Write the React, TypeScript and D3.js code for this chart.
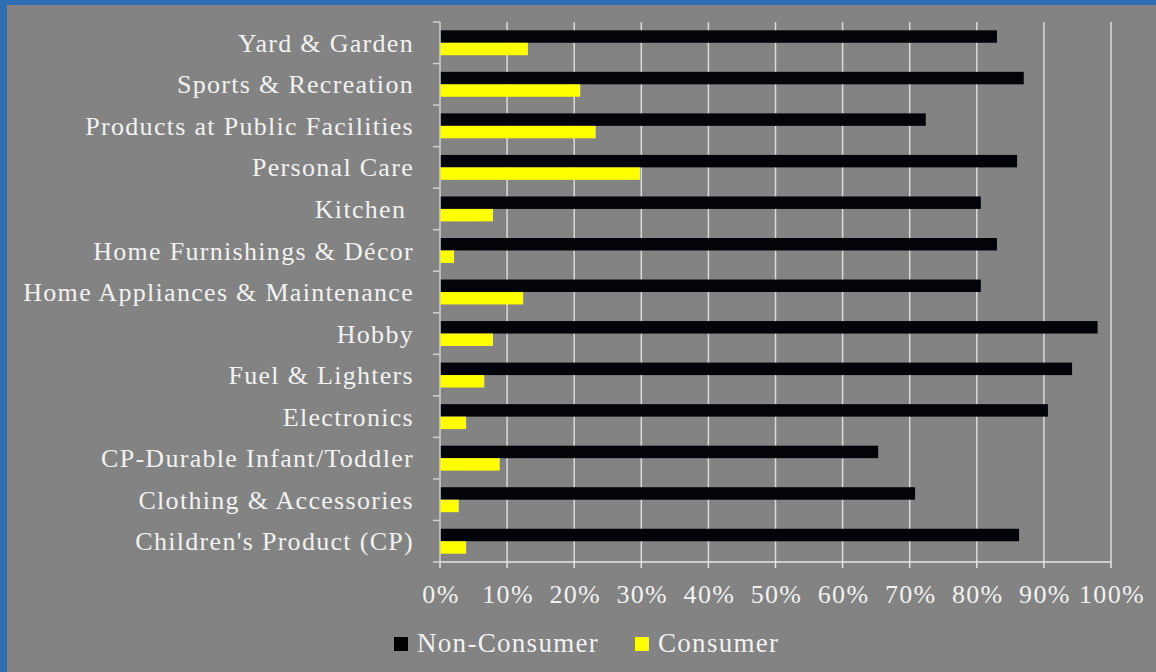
import * as d3 from "d3";

const categories = [
  "Yard & Garden",
  "Sports & Recreation",
  "Products at Public Facilities",
  "Personal Care",
  "Kitchen ",
  "Home Furnishings & Décor",
  "Home Appliances & Maintenance",
  "Hobby",
  "Fuel & Lighters",
  "Electronics",
  "CP-Durable Infant/Toddler",
  "Clothing & Accessories",
  "Children's Product (CP)",
];

const nonConsumer = [83, 87, 72.4, 86, 80.6, 83, 80.6, 98, 94.2, 90.6, 65.3, 70.8, 86.3];
const consumer = [13.1, 20.9, 23.2, 29.8, 7.9, 2.1, 12.4, 7.9, 6.6, 3.9, 8.9, 2.8, 3.9];

const seriesNames = ["Non-Consumer", "Consumer"];
const seriesColors = ["#03030a", "#ffff00"];
const xTicks = [0, 10, 20, 30, 40, 50, 60, 70, 80, 90, 100];

const W = 1156;
const H = 672;
const FONT = "'Liberation Serif', 'DejaVu Serif', serif";
const TEXT = "#f2f2f2";

export default function App() {
  const left = 440;
  const right = 1111;
  const top = 22;
  const bottom = 562;

  const x = d3.scaleLinear().domain([0, 100]).range([left, right]);
  const y = d3
    .scaleBand<string>()
    .domain(categories)
    .range([top, bottom])
    .paddingInner(0.4)
    .paddingOuter(0.2);
  const sub = d3
    .scaleBand<string>()
    .domain(seriesNames)
    .range([0, y.bandwidth()]);

  const seriesValues = [nonConsumer, consumer];
  const step = y.step();

  return (
    <svg
      width={W}
      height={H}
      style={{ position: "absolute", left: 0, top: 0, display: "block" }}
    >
      {/* slide background */}
      <rect x={0} y={0} width={W} height={H} fill="#2f6db3" />
      <rect x={7} y={5} width={W - 7} height={H - 5} fill="#838383" />

      {/* gridlines */}
      {xTicks.slice(1).map((t) => (
        <line
          key={"g" + t}
          x1={x(t)}
          x2={x(t)}
          y1={top}
          y2={bottom}
          stroke="#dadada"
          strokeWidth={1.5}
        />
      ))}

      {/* bars */}
      {categories.map((c, i) => (
        <g key={c} transform={`translate(0,${y(c)})`}>
          {seriesNames.map((s, j) => (
            <rect
              key={s}
              x={x(0)}
              y={sub(s)}
              width={x(seriesValues[j][i]) - x(0)}
              height={sub.bandwidth()}
              fill={seriesColors[j]}
            />
          ))}
        </g>
      ))}

      {/* left axis */}
      <line x1={left} x2={left} y1={top} y2={bottom} stroke="#cfcfcf" strokeWidth={1.5} />
      {d3.range(categories.length + 1).map((k) => (
        <line
          key={"lt" + k}
          x1={left - 7}
          x2={left}
          y1={top + k * step}
          y2={top + k * step}
          stroke="#cfcfcf"
          strokeWidth={1.5}
        />
      ))}
      {categories.map((c) => (
        <text
          key={"l" + c}
          x={414}
          y={(y(c) ?? 0) + y.bandwidth() / 2}
          dy="0.35em"
          textAnchor="end"
          fontFamily={FONT}
          fontSize={26}
          letterSpacing={1.3}
          fill={TEXT}
          style={{ whiteSpace: "pre" }}
        >
          {c}
        </text>
      ))}

      {/* bottom axis */}
      <line x1={left} x2={right} y1={bottom} y2={bottom} stroke="#e6e6e6" strokeWidth={1.5} />
      {xTicks.map((t) => (
        <g key={"bt" + t}>
          <line x1={x(t)} x2={x(t)} y1={bottom} y2={bottom + 6} stroke="#e6e6e6" strokeWidth={1.5} />
          <text
            x={x(t) + 1}
            y={603}
            textAnchor="middle"
            fontFamily={FONT}
            fontSize={26}
            letterSpacing={1.3}
            fill={TEXT}
          >
            {t + "%"}
          </text>
        </g>
      ))}

      {/* legend */}
      {seriesNames.map((s, j) => {
        const lx = j === 0 ? 394 : 635;
        return (
          <g key={"lg" + s}>
            <rect x={lx} y={637} width={14} height={14} fill={j === 0 ? "#000000" : seriesColors[j]} />
            <text
              x={lx + 23}
              y={652}
              fontFamily={FONT}
              fontSize={27}
              letterSpacing={1.3}
              fill={TEXT}
            >
              {s}
            </text>
          </g>
        );
      })}
    </svg>
  );
}
